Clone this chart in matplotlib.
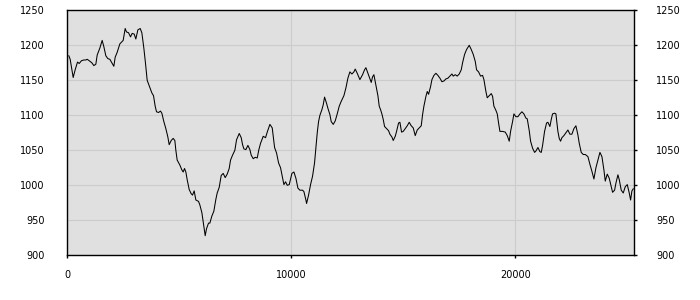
import matplotlib
matplotlib.use("Agg")
import matplotlib.pyplot as plt

# values
xs = [74, 134, 268, 357, 461, 536, 640, 744, 833, 893, 982, 1101, 1190, 1280, 1339,
      1458, 1562, 1637, 1726, 1815, 1905, 1994, 2083, 2143, 2232, 2351, 2440, 2500,
      2589, 2649, 2738, 2827, 2902, 2991, 3065, 3155, 3259, 3333, 3422, 3497, 3571,
      3690, 3780, 3854, 3928, 3988, 4077, 4166, 4226, 4315, 4404, 4494, 4553, 4643,
      4732, 4806, 4851, 4910, 5029, 5119, 5178, 5238, 5297, 5357, 5446, 5535, 5595,
      5669, 5744, 5863, 5922, 6012, 6071, 6161, 6220, 6310, 6369, 6458, 6547, 6637,
      6696, 6786, 6875, 6964, 7054, 7143, 7232, 7292, 7381, 7485,
      7560, 7680, 7769, 7829, 7888, 7977, 8067, 8156, 8215, 8305, 8394,
      8483, 8557, 8632, 8751, 8855, 8930, 9049, 9153, 9258, 9347, 9436, 9525, 9615,
      9674, 9749, 9823, 9912, 10031, 10121, 10210, 10299, 10388, 10507, 10567, 10656,
      10686, 10775, 10864, 10953, 11042, 11102, 11162, 11221, 11281, 11370, 11429,
      11489, 11578, 11638, 11727, 11786, 11876, 11965, 12054, 12143, 12233, 12352,
      12441, 12530, 12619,
      12709, 12798, 12858, 12947, 13066, 13185, 13274, 13334, 13423, 13513, 13572,
      13632, 13691, 13751, 13810, 13870, 13929, 13989, 14048, 14108, 14167, 14257,
      14346, 14405, 14495, 14554, 14644, 14703, 14792, 14852, 14926, 15001, 15090,
      15179, 15268, 15358, 15447, 15536, 15626, 15715, 15804, 15864, 15923, 16013,
      16072, 16132, 16221, 16281, 16370, 16459, 16548, 16638, 16727, 16816, 16906,
      16994, 17084, 17173, 17233, 17322, 17411, 17500, 17590, 17649, 17739, 17828,
      17947, 18036, 18125, 18215, 18274, 18363, 18453, 18542, 18602, 18691, 18750,
      18840, 18929, 18989, 19048, 19137, 19197, 19256, 19316, 19435, 19554, 19643,
      19732, 19792, 19881, 19941, 20030, 20119, 20209, 20298, 20387, 20476, 20536,
      20625, 20685, 20774, 20864, 20923, 21013, 21102, 21161, 21221,
      21309, 21398, 21458, 21547, 21607, 21666, 21755, 21815, 21904, 21964, 22023,
      22083, 22172, 22261, 22351, 22440, 22529, 22619, 22708, 22797, 22857, 22946,
      23035, 23125, 23244, 23333, 23422, 23512, 23601, 23690, 23780, 23869, 23958,
      24018, 24107, 24196, 24286, 24345, 24434, 24494, 24583, 24643, 24732, 24821,
      24911, 25000, 25089, 25149, 25208, 25268]

ys = [1185, 1180, 1154, 1165, 1176, 1174, 1178, 1179, 1179, 1180, 1178, 1175, 1171,
      1173, 1186, 1196, 1207, 1198, 1185, 1181, 1180, 1175, 1170, 1183, 1190, 1202,
      1205, 1207, 1224, 1219, 1218, 1212, 1217, 1216, 1209, 1222, 1224, 1218, 1196,
      1174, 1150, 1140, 1132, 1128, 1113, 1105, 1104, 1106, 1103, 1091, 1081, 1069,
      1058, 1064, 1067, 1064, 1050, 1036, 1029, 1022, 1019, 1024, 1019, 1008, 994,
      988, 986, 992, 979, 977, 972, 961, 948, 928, 938, 946, 946, 956, 963, 980, 989,
      997, 1014, 1017, 1011, 1016, 1024, 1036, 1043, 1050,
      1065, 1074, 1068, 1058, 1052, 1051, 1057, 1051, 1043, 1038, 1040,
      1039, 1051, 1060, 1070, 1068, 1076, 1087, 1082, 1054, 1046, 1032, 1025, 1010,
      1001, 1005, 1000, 1001, 1017, 1019, 1010, 996, 993, 993, 991, 979,
      974, 986, 1001, 1013, 1032, 1053, 1075, 1091, 1100, 1108, 1115,
      1126, 1117, 1110, 1101, 1091, 1087, 1092, 1102, 1113, 1120, 1128,
      1139, 1153, 1162,
      1159, 1162, 1166, 1160, 1151, 1158, 1165, 1168, 1160, 1152, 1147,
      1155, 1158, 1148, 1139, 1128, 1113, 1108, 1102, 1094, 1084, 1081,
      1078, 1073, 1069, 1064, 1070, 1077, 1089, 1090, 1076, 1077, 1081,
      1085, 1090, 1085, 1082, 1071, 1079, 1082, 1085, 1101, 1113, 1127,
      1134, 1130, 1141, 1151, 1157, 1160, 1157, 1153, 1148, 1149, 1152,
      1153, 1156, 1159, 1156, 1158, 1156, 1159, 1165, 1175, 1187, 1194,
      1200, 1194, 1187, 1177, 1165, 1162, 1156, 1157, 1151, 1134, 1125,
      1128, 1131, 1127, 1113, 1107, 1102, 1089, 1077, 1077, 1076, 1071,
      1063, 1077, 1091, 1102, 1098, 1098, 1102, 1105, 1102, 1096, 1095,
      1078, 1063, 1053, 1047, 1049, 1054, 1048, 1047, 1057,
      1077, 1089, 1090, 1084, 1094, 1102, 1103, 1102, 1077, 1067, 1063,
      1068, 1071, 1075, 1079, 1073, 1073, 1081, 1085, 1072, 1060, 1047,
      1044, 1044, 1041, 1030, 1020, 1009, 1025, 1036, 1047, 1041, 1022,
      1006, 1016, 1010, 998, 990, 993, 1003, 1015, 1008, 993, 989,
      998, 1001, 989, 979, 992, 995]

yticks = [900, 950, 1000, 1050, 1100, 1150, 1200, 1250]
xticks = [0, 10000, 20000]

fig = plt.figure(figsize=(7, 3), dpi=100)
ax = fig.add_axes([0.095, 0.149, 0.811, 0.8167])
ax.set_facecolor("#e0e0e0")
ax.plot(xs, ys, color="black", lw=0.75)

ax.set_xlim(-30, 25310)
ax.set_ylim(900, 1250)
ax.set_xticks(xticks)
ax.set_yticks(yticks)
ax.grid(True, color="#cccccc", lw=0.8)
ax.set_axisbelow(True)

for s in ax.spines.values():
    s.set_color("black")
    s.set_linewidth(1)

ax.tick_params(axis="x", length=2.2, width=1, pad=8.5, labelsize=7)
ax.tick_params(axis="y", left=False, right=True, labelleft=True, labelright=True,
               length=2.2, width=1, pad=13.5, labelsize=7)

fig.savefig("out.png", dpi=100)
